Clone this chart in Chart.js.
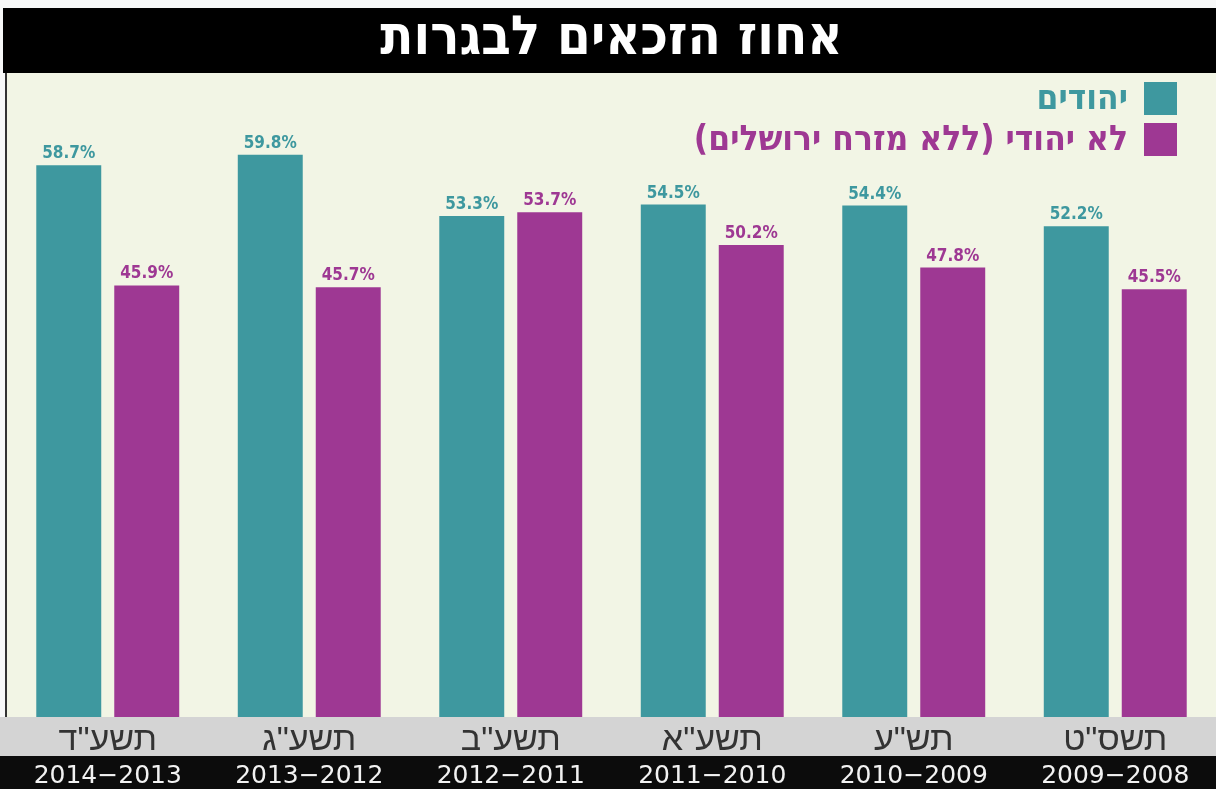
<!DOCTYPE html>
<html lang="he">
<head>
<meta charset="utf-8">
<title>אחוז הזכאים לבגרות</title>
<script src="https://cdn.jsdelivr.net/npm/chart.js@4.4.1/dist/chart.umd.min.js"></script>
<style>
  html, body { margin: 0; padding: 0; background: #f7f8f8; }
  #wrap { width: 1216px; height: 789px; }
</style>
</head>
<body>
<div id="wrap"><canvas id="bagrutChart" width="1216" height="789"></canvas></div>
<script>
// Dati del grafico (ordine visivo da sinistra a destra)
const hebrewYears = ['תשע"ד', 'תשע"ג', 'תשע"ב', 'תשע"א', 'תש"ע', 'תשס"ט'];
const gregorianYears = ["2014−2013", "2013−2012", "2012−2011", "2011−2010", "2010−2009", "2009−2008"];
const jewsValues = [58.7, 59.8, 53.3, 54.5, 54.4, 52.2];
const nonJewsValues = [45.9, 45.7, 53.7, 50.2, 47.8, 45.5];
const seriesNames = ["יהודים", "לא יהודי (ללא מזרח ירושלים)"];

const tealColor = "#3e989f";
const purpleColor = "#9e3893";
const plotBg = "#f2f5e5";

// Sfondi: barra del titolo, area del grafico, bande dell'asse x
const bandsPlugin = {
  id: "bands",
  beforeDraw(chart) {
    const ctx = chart.ctx;
    const area = chart.chartArea;
    const x1 = chart.scales.x;
    const x2 = chart.scales.x2;
    ctx.save();
    ctx.fillStyle = "#000";
    ctx.fillRect(3, 8, chart.width - 3, area.top - 8);
    ctx.fillStyle = plotBg;
    ctx.fillRect(area.left, area.top, chart.width - area.left, area.bottom - area.top);
    ctx.fillStyle = "#d4d4d4";
    ctx.fillRect(0, x1.top, chart.width, x1.bottom - x1.top);
    ctx.fillStyle = "#0c0c0c";
    ctx.fillRect(0, x2.top, chart.width, chart.height - x2.top);
    // bordo sinistro
    ctx.fillStyle = "#333";
    ctx.fillRect(area.left - 2, area.top, 2, area.bottom - area.top);
    ctx.restore();
  },
};

// Etichette dei valori sopra le barre
const valueLabelsPlugin = {
  id: "valueLabels",
  afterDatasetsDraw(chart) {
    const ctx = chart.ctx;
    ctx.save();
    ctx.font = "bold 17px 'DejaVu Sans Condensed', 'DejaVu Sans', sans-serif";
    ctx.textAlign = "center";
    ctx.textBaseline = "alphabetic";
    chart.data.datasets.forEach((ds, i) => {
      const meta = chart.getDatasetMeta(i);
      ctx.fillStyle = ds.backgroundColor;
      meta.data.forEach((bar, j) => {
        ctx.fillText(ds.data[j].toFixed(1) + "%", bar.x, bar.y - 7);
      });
    });
    ctx.restore();
  },
};

// Legenda in alto a destra, verticale, da destra a sinistra
const rtlLegendPlugin = {
  id: "rtlLegend",
  afterDraw(chart) {
    const ctx = chart.ctx;
    const boxSize = 33;
    const boxX = 1144;
    const rows = [82, 123];
    ctx.save();
    ctx.direction = "rtl";
    ctx.textAlign = "right";
    ctx.textBaseline = "middle";
    ctx.font = "bold 35px 'DejaVu Sans Condensed', 'DejaVu Sans', sans-serif";
    chart.data.datasets.forEach((ds, i) => {
      ctx.fillStyle = ds.backgroundColor;
      ctx.fillRect(boxX, rows[i], boxSize, boxSize);
      ctx.fillText(ds.label, boxX - 16, rows[i] + boxSize / 2 + 1);
    });
    ctx.restore();
  },
};

const ctx = document.getElementById("bagrutChart").getContext("2d");
new Chart(ctx, {
  type: "bar",
  data: {
    labels: hebrewYears,
    datasets: [
      {
        label: seriesNames[0],
        data: jewsValues,
        backgroundColor: tealColor,
        categoryPercentage: 0.774,
        barPercentage: 0.833,
      },
      {
        label: seriesNames[1],
        data: nonJewsValues,
        backgroundColor: purpleColor,
        categoryPercentage: 0.774,
        barPercentage: 0.833,
      },
    ],
  },
  options: {
    responsive: false,
    animation: false,
    layout: { padding: { top: 8, left: 7, right: 0, bottom: 0 } },
    plugins: {
      legend: { display: false },
      tooltip: { enabled: false },
      title: {
        display: true,
        text: "אחוז הזכאים לבגרות",
        color: "#fff",
        font: { family: "'DejaVu Sans Condensed', 'DejaVu Sans', sans-serif", size: 54, weight: "bold", lineHeight: 1.0 },
        padding: { top: 5, bottom: 6 },
      },
    },
    scales: {
      x: {
        position: "bottom",
        weight: 1,
        grid: { display: false },
        border: { display: false },
        ticks: {
          color: "#333",
          padding: 2,
          font: { family: "'Liberation Sans', 'DejaVu Sans', sans-serif", size: 34, lineHeight: "27px" },
          maxRotation: 0,
          autoSkip: false,
        },
      },
      x2: {
        type: "category",
        labels: gregorianYears,
        position: "bottom",
        weight: 2,
        offset: true,
        grid: { display: false },
        border: { display: false },
        ticks: {
          color: "#f2f2f2",
          padding: 4,
          font: { family: "'DejaVu Sans', sans-serif", size: 25, lineHeight: "17px" },
          maxRotation: 0,
          autoSkip: false,
        },
      },
      y: {
        display: false,
        min: 0,
        max: 68.5,
      },
    },
  },
  plugins: [bandsPlugin, valueLabelsPlugin, rtlLegendPlugin],
});
</script>
</body>
</html>
